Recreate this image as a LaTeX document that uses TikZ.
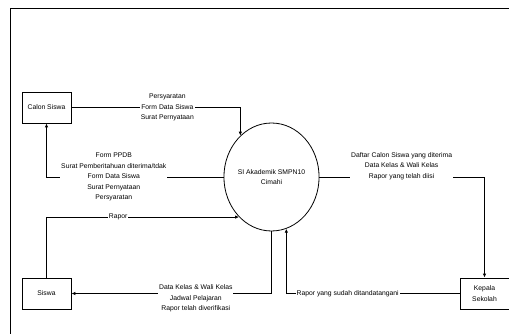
\documentclass[tikz,border=0pt]{standalone}
\usepackage{fontspec}
\setmainfont{Liberation Sans}
\usetikzlibrary{arrows.meta,shapes.geometric}
\begin{document}
\begin{tikzpicture}[x=1pt,y=-1pt,
  every node/.style={font=\fontsize{6.8}{10.5}\selectfont},
  entity/.style={draw,line width=0.8pt,minimum width=49pt,minimum height=31pt,inner sep=1pt,align=center},
  proc/.style={draw,ellipse,line width=0.8pt,minimum width=85pt,minimum height=108pt,inner sep=0pt,align=center},
  flow/.style={line width=0.8pt,-{Latex[length=4pt,width=3.5pt]}},
  lbl/.style={fill=white,inner sep=0.8pt,align=center}]
\clip (0,0) rectangle (509,334);
\draw[line width=0.8pt] (10,340) -- (10,8) -- (515,8);
\node[entity] (cs) at (46.5,107.5) {Calon Siswa};
\node[entity] (sw) at (46.5,293.5) {Siswa};
\node[entity] (ks) at (484.5,293.5) {Kepala\\Sekolah};
\node[proc] (si) at (271.5,177) {SI Akademik SMPN10\\Cimahi};
\draw[flow] (cs.east) -| (si.127)
  node[lbl,pos=0.284] (l1) {Persyaratan\\Form Data Siswa\\Surat Pernyataan};
\draw[flow] (si.west) -| (cs.south)
  node[lbl,pos=0.31] (l2) {Form PPDB\\Surat Pemberitahuan diterima/tdak\\Form Data Siswa\\Surat Pernyataan\\Persyaratan};
\draw[flow] (sw.north) |- (si.231)
  node[lbl,pos=0.686] (l3) {Rapor};
\draw[flow] (si.south) |- (sw.east)
  node[lbl,pos=0.689,yshift=-5pt] (l4) {Data Kelas \& Wali Kelas\\Jadwal Pelajaran\\Rapor telah diverifikasi};
\draw[flow] (ks.west) -| (si.286)
  node[lbl,pos=0.323] (l5) {Rapor yang sudah ditandatangani};
\draw[flow] (si.east) -| (ks.north)
  node[lbl,pos=0.249,yshift=11pt] (l6) {Daftar Calon Siswa yang diterima\\Data Kelas \& Wali Kelas\\Rapor yang telah diisi};
\end{tikzpicture}
\end{document}
